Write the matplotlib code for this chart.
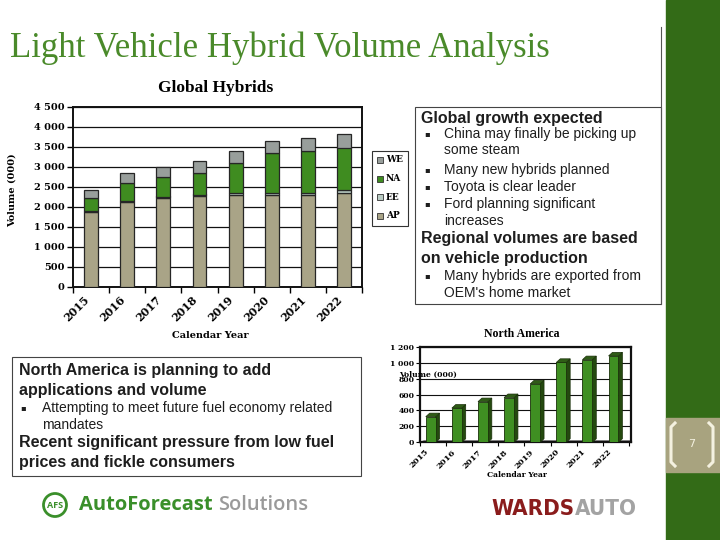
import matplotlib
matplotlib.use("Agg")
import matplotlib.pyplot as plt
from matplotlib.transforms import Affine2D
from matplotlib.patches import Rectangle, Polygon, Circle
from matplotlib.lines import Line2D
import numpy as np

# ---------------- data ----------------
years = ['2015', '2016', '2017', '2018', '2019', '2020', '2021', '2022']
ap = [1880, 2130, 2210, 2270, 2300, 2300, 2300, 2350]
ee = [20, 25, 45, 35, 55, 55, 55, 60]
na_global = [330, 430, 500, 540, 730, 1000, 1030, 1070]
we = [200, 250, 230, 295, 310, 300, 325, 350]
na_detail = [321, 429, 510, 561, 733, 1003, 1037, 1084]
global_ticks = [0, 500, 1000, 1500, 2000, 2500, 3000, 3500, 4000, 4500]
na_ticks = [0, 200, 400, 600, 800, 1000, 1200]
legend_labels = ['WE', 'NA', 'EE', 'AP']

C_AP = '#a9a487'
C_EE = '#b9cbc3'
C_NA = '#3f8c20'
C_WE = '#989e9b'
GREEN = '#336b17'

W, H = 720, 540
fig = plt.figure(figsize=(7.2, 5.4), dpi=100)
px = Affine2D().scale(1 / W, -1 / H).translate(0, 1) + fig.transFigure


def add_axes_px(x0, y0, x1, y1):
    return fig.add_axes([x0 / W, 1 - y1 / H, (x1 - x0) / W, (y1 - y0) / H])


def fmt(v):
    return f"{v:,}".replace(",", " ")


SERIF_B = dict(family='DejaVu Serif', weight='bold')

# ---------------- right green strip ----------------
fig.add_artist(Rectangle((666, 0), 54, 540, transform=px, color=GREEN, zorder=0))
fig.add_artist(Rectangle((666, 418), 54, 54, transform=px, color='#a8a37f', zorder=1))
for xs in ([675, 671, 671, 675], [709, 713, 713, 709]):
    fig.add_artist(Line2D(xs, [423, 427, 462, 466], transform=px, color='#f4f1e0', lw=2.2, zorder=2))
fig.text(692, 444, '7', transform=px, color='#f4f1e0', fontsize=8, ha='center', va='center',
         family='DejaVu Sans')
fig.add_artist(Line2D([661, 661], [27, 304], transform=px, color='#555555', lw=0.8))

# ---------------- title ----------------
fig.text(10, 48, 'Light Vehicle Hybrid Volume Analysis', transform=px, color='#4a8a2a',
         fontsize=25, family='Liberation Serif', ha='left', va='center')

# ---------------- global chart ----------------
ax = add_axes_px(72.7, 106.7, 362, 286.7)
x = np.arange(len(years))
bw = 0.385
b1 = np.array(ap)
b2 = b1 + np.array(ee)
b3 = b2 + np.array(na_global)
kw = dict(width=bw, edgecolor='#262626', linewidth=0.9, zorder=3)
ax.bar(x, ap, color=C_AP, **kw)
ax.bar(x, ee, bottom=b1, color=C_EE, **kw)
ax.bar(x, na_global, bottom=b2, color=C_NA, **kw)
ax.bar(x, we, bottom=b3, color=C_WE, **kw)
ax.set_xlim(-0.51, 7.44)
ax.set_ylim(0, 4500)
ax.set_yticks(global_ticks)
ax.set_yticklabels([fmt(t) for t in global_ticks], fontsize=7, **SERIF_B)
ax.set_xticks(x)
ax.set_xticklabels(years, rotation=45, ha='right', fontsize=8, **SERIF_B)
ax.set_xticks(np.arange(-0.5, 8, 1.0), minor=True)
ax.tick_params(axis='x', which='major', length=0, pad=5)
ax.tick_params(axis='x', which='minor', length=4, width=1, direction='out')
ax.tick_params(axis='y', length=4, width=1, direction='out', pad=2)
ax.yaxis.grid(True, color='#111111', lw=0.9, zorder=0)
ax.set_axisbelow(True)
for s in ax.spines.values():
    s.set_linewidth(1.4)
    s.set_color('#111111')
fig.text(216, 88, 'Global Hybrids', transform=px, fontsize=12.5, family='Liberation Serif',
         weight='bold', ha='center', va='center')
fig.text(12, 190, 'Volume (000)', transform=px, fontsize=7, rotation=90, ha='center', va='center', **SERIF_B)
fig.text(210, 336, 'Calendar Year', transform=px, fontsize=7, ha='center', va='center', **SERIF_B)

# legend
fig.add_artist(Rectangle((372, 151), 36, 75, transform=px, fill=False, edgecolor='#333333', lw=0.8))
for i, (lab, col) in enumerate(zip(legend_labels, [C_WE, C_NA, C_EE, C_AP])):
    yy = 160 + i * 18.5
    fig.add_artist(Rectangle((377, yy - 3), 6, 6, transform=px, facecolor=col, edgecolor='#333333', lw=0.6))
    fig.text(386, yy, lab, transform=px, fontsize=6.5, ha='left', va='center', **SERIF_B)

# ---------------- text box 1 ----------------
fig.add_artist(Rectangle((415, 107), 246, 197, transform=px, fill=False, edgecolor='#444444', lw=0.8))
TXT = '#1e1e1e'
SANS = 'Liberation Sans'
BIG = 11.5
SMALL = 10
fig.text(421, 118, 'Global growth expected', transform=px, fontsize=BIG, weight='bold', family=SANS,
         color=TXT, va='center')
b_lines = [(134, 'China may finally be picking up', True), (150, 'some steam', False),
           (170, 'Many new hybrids planned', True), (187, 'Toyota is clear leader', True),
           (204, 'Ford planning significant', True), (221, 'increases', False)]
for yy, s, bul in b_lines:
    if bul:
        fig.text(424, yy, '▪', transform=px, fontsize=6, family='DejaVu Sans', color=TXT, va='center')
    fig.text(444, yy, s, transform=px, fontsize=SMALL, family=SANS, color=TXT, va='center')
fig.text(421, 238, 'Regional volumes are based', transform=px, fontsize=BIG, weight='bold', family=SANS,
         color=TXT, va='center')
fig.text(421, 258, 'on vehicle production', transform=px, fontsize=BIG, weight='bold', family=SANS,
         color=TXT, va='center')
fig.text(424, 276, '▪', transform=px, fontsize=6, family='DejaVu Sans', color=TXT, va='center')
fig.text(444, 276, 'Many hybrids are exported from', transform=px, fontsize=SMALL, family=SANS, color=TXT, va='center')
fig.text(444, 293, "OEM's home market", transform=px, fontsize=SMALL, family=SANS, color=TXT, va='center')

# ---------------- text box 2 ----------------
fig.add_artist(Rectangle((12, 357), 349, 119, transform=px, fill=False, edgecolor='#444444', lw=0.8))
fig.text(19, 371, 'North America is planning to add', transform=px, fontsize=BIG, weight='bold',
         family=SANS, color=TXT, va='center')
fig.text(19, 390, 'applications and volume', transform=px, fontsize=BIG, weight='bold',
         family=SANS, color=TXT, va='center')
fig.text(20, 408, '▪', transform=px, fontsize=6, family='DejaVu Sans', color=TXT, va='center')
fig.text(42, 408, 'Attempting to meet future fuel economy related', transform=px, fontsize=SMALL,
         family=SANS, color=TXT, va='center')
fig.text(42, 425, 'mandates', transform=px, fontsize=SMALL, family=SANS, color=TXT, va='center')
fig.text(19, 443, 'Recent significant pressure from low fuel', transform=px, fontsize=BIG, weight='bold',
         family=SANS, color=TXT, va='center')
fig.text(19, 462, 'prices and fickle consumers', transform=px, fontsize=BIG, weight='bold',
         family=SANS, color=TXT, va='center')

# ---------------- NA chart ----------------
ax2 = add_axes_px(420, 346.7, 630.5, 442.3)
x2 = np.arange(len(years))
w2 = 0.38
dx, dy = 0.15, 45
ax2.set_xlim(-0.41, 7.65)
ax2.set_ylim(0, 1200)
ax2.add_patch(Polygon([(-0.41, 0), (7.65, 0), (7.65, dy * 0.6), (-0.41 + dx, dy * 0.6)],
                      closed=True, facecolor='#8c8c8c', edgecolor='none', zorder=2))
for xi, v in zip(x2, na_detail):
    l, r = xi - w2 / 2, xi + w2 / 2
    ax2.add_patch(Polygon([(r, 0), (r + dx, dy), (r + dx, v + dy), (r, v)], closed=True,
                          facecolor='#24490f', edgecolor='#1a300a', lw=0.5, zorder=3))
    ax2.add_patch(Polygon([(l, v), (r, v), (r + dx, v + dy), (l + dx, v + dy)], closed=True,
                          facecolor='#2f5c16', edgecolor='#1a300a', lw=0.5, zorder=3))
ax2.bar(x2, na_detail, width=w2, color='#3f8f22', edgecolor='#1a300a', linewidth=0.6, zorder=4)
ax2.set_yticks(na_ticks)
ax2.set_yticklabels([fmt(t) for t in na_ticks], fontsize=5.5, **SERIF_B)
ax2.set_xticks(x2)
ax2.set_xticklabels(years, rotation=45, ha='right', fontsize=6, **SERIF_B)
ax2.set_xticks(np.arange(-0.41, 8, 1.0), minor=True)
ax2.tick_params(axis='x', which='major', length=0, pad=4)
ax2.tick_params(axis='x', which='minor', length=3, width=0.8, direction='out')
ax2.tick_params(axis='y', length=3, width=0.8, direction='out', pad=1)
ax2.yaxis.grid(True, color='#111111', lw=0.8, zorder=0)
ax2.set_axisbelow(True)
for s in ax2.spines.values():
    s.set_linewidth(1.6)
    s.set_color('#111111')
fig.text(522, 334, 'North America', transform=px, fontsize=8.5, family='Liberation Serif', weight='bold',
         ha='center', va='center')
fig.text(428, 375, 'Volume (000)', transform=px, fontsize=5.5, ha='center', va='center', zorder=10, **SERIF_B)
fig.text(517, 475, 'Calendar Year', transform=px, fontsize=5.5, ha='center', va='center', **SERIF_B)

# ---------------- logos ----------------
fig.add_artist(Circle((55, 505), 11.5, transform=px, fill=False, edgecolor='#3a8f2a', lw=2))
fig.text(55, 505.5, 'AFS', transform=px, fontsize=6.5, weight='bold', family='Open Sans', color='#3a8f2a',
         ha='center', va='center')
fig.text(79, 505, 'AutoForecast', transform=px, fontsize=14.5, weight='bold', family='Open Sans',
         color='#3a8f2a', ha='left', va='center')
fig.text(218, 505, 'Solutions', transform=px, fontsize=14.5, family='Open Sans', weight='semibold',
         color='#9a9a9a', ha='left', va='center')

fig.text(575, 509, 'WARDS', transform=px, fontsize=16, weight='heavy', family='DejaVu Sans',
         fontstretch='condensed', color='#8a1c1c', ha='right', va='center')
fig.text(575, 509, 'AUTO', transform=px, fontsize=16, weight='heavy', family='DejaVu Sans',
         fontstretch='condensed', color='#a3a3a3', ha='left', va='center')

fig.savefig('out.png', dpi=100)
